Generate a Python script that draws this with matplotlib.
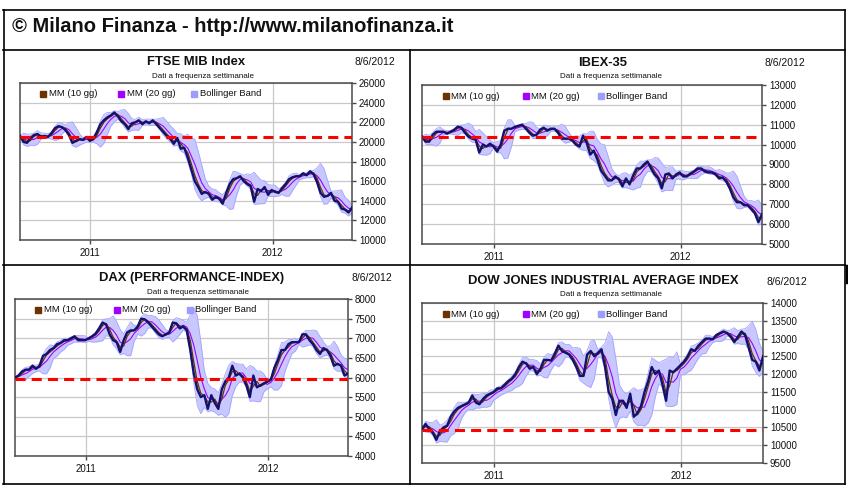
"""Milano Finanza weekly index sheet: four panels, close + MM + Bollinger band."""

import matplotlib

matplotlib.use("Agg")
import matplotlib.dates as mdates  # noqa: E402
import matplotlib.pyplot as plt  # noqa: E402
import pandas as pd  # noqa: E402
from matplotlib.lines import Line2D  # noqa: E402
from matplotlib.ticker import MultipleLocator  # noqa: E402

W, H = 848, 488

# weekly closes, last one on 8/6/2012
LAST_DATE = "2012-06-08"

FTSE = [20600, 20000, 19900, 20400, 20700, 20800, 20500, 20600, 20500, 20900,
        21400, 21600, 21500, 21200, 20700, 19900, 20100, 20300, 20200, 20500,
        20100, 20300, 21000, 21800, 22200, 22500, 22700, 23000, 22600, 22100,
        21800, 21300, 21900, 22000, 22200, 21800, 22100, 21900, 22200, 21800,
        21400, 21000, 20600, 20300, 19800, 20400, 19300, 19400, 18400, 17200,
        16000, 15400, 14700, 14900, 14700, 14100, 14400, 14200, 13700, 14800,
        15700, 16200, 16300, 16500, 16000, 15700, 15500, 13900, 15200, 15000,
        15400, 14600, 15100, 14900, 14800, 15300, 15700, 16200, 16400, 16500,
        16500, 16800, 16600, 17000, 16700, 15900, 14800, 14400, 14500, 14800,
        14000, 13900, 13200, 13100, 12800, 13300]
IBEX = [10400, 10150, 10150, 10500, 10650, 10650, 10650, 10550, 10650, 10750,
        10900, 10850, 10600, 10400, 10300, 10250, 9600, 10000, 9900, 10050,
        9900, 9650, 10000, 10700, 10800, 10800, 10900, 10950, 11000, 10800,
        10600, 10450, 10500, 10750, 10850, 10700, 10800, 10800, 10600, 10300,
        10300, 10300, 10200, 10000, 9900, 10450, 10100, 9500, 9700, 9250,
        8700, 8450, 8200, 8200, 8400, 8250, 7900, 8300, 8000, 8450,
        8800, 8800, 9000, 9150, 8800, 8500, 8300, 7800, 8500, 8550,
        8300, 8500, 8600, 8400, 8400, 8550, 8650, 8800, 8800, 8650,
        8600, 8600, 8500, 8300, 8350, 8150, 7800, 7350, 7100, 7100,
        6950, 6950, 6750, 6550, 6100, 6500]
DAX = [6000, 6050, 6150, 6200, 6200, 6300, 6220, 6300, 6550, 6600,
       6700, 6750, 6850, 6880, 6950, 6950, 7000, 7050, 6950, 6950,
       6950, 7000, 7050, 7120, 7250, 7400, 7350, 7100, 6950, 6900,
       6650, 6950, 7150, 7200, 7200, 7300, 7500, 7480, 7400, 7300,
       7200, 7100, 7050, 7100, 7150, 7400, 7380, 7250, 7300, 7200,
       6700, 6100, 5700, 5500, 5550, 5200, 5550, 5350, 5200, 5700,
       5900, 6000, 6300, 6050, 6100, 6000, 5800, 5500, 6050, 5750,
       5800, 5850, 5900, 5950, 6250, 6450, 6700, 6700, 6850, 6900,
       6900, 6900, 7100, 7100, 6950, 6850, 6700, 6600, 6750, 6700,
       6550, 6300, 6350, 6300, 6050, 6100]
DJIA = [10450, 10600, 10450, 10350, 10150, 10400, 10500, 10550, 10800, 10950,
        11050, 11100, 11150, 11200, 11400, 11200, 11150, 11300, 11400, 11450,
        11500, 11600, 11600, 11700, 11800, 11870, 12000, 12200, 12350, 12300,
        12150, 12200, 12000, 12150, 12400, 12400, 12380, 12580, 12800, 12650,
        12600, 12550, 12400, 12200, 11950, 11950, 12550, 12650, 12500, 12600,
        12700, 12200, 11500, 11300, 10850, 11250, 11250, 11050, 11450, 10800,
        10900, 11100, 11500, 11800, 12200, 12000, 12100, 11700, 11250, 12100,
        12050, 12150, 12250, 12350, 12500, 12700, 12650, 12800, 12900, 13000,
        13000, 12980, 13100, 13150, 13200, 13150, 13050, 12900, 13050, 13200,
        13100, 12750, 12400, 12350, 12100, 12500]

# red dashed reference levels
FTSE_REF = 20500
IBEX_REF = 10400
DAX_REF = 5970
DJIA_REF = 10420

TITLES = ["FTSE MIB Index", "IBEX-35", "DAX (PERFORMANCE-INDEX)",
          "DOW JONES INDUSTRIAL AVERAGE INDEX"]
SUBTITLE = "Dati a frequenza settimanale"
DATE_LABEL = "8/6/2012"
LEGEND = ["MM (10 gg)", "MM (20 gg)", "Bollinger Band"]
HEADER = "\u00a9 Milano Finanza - http://www.milanofinanza.it"

NAVY = "#12126e"
BROWN = "#6b3300"
PURPLE = "#a000ff"
BAND_FILL = "#c8c8ff"
BAND_EDGE = "#a4a4ff"
RED = "#ff0000"
GRID = "#c8c8c8"
FRAME = "#4a4a4a"
INK = "#111111"

plt.rcParams["font.family"] = ["Liberation Sans", "DejaVu Sans"]


def fx(x):
    return x / W


def fy(y):
    return 1 - y / H


def hline(fig, x0, x1, y, lw=1.2, color="black"):
    fig.add_artist(Line2D([fx(x0), fx(x1)], [fy(y), fy(y)], color=color, lw=lw))


def vline(fig, x, y0, y1, lw=1.2, color="black"):
    fig.add_artist(Line2D([fx(x), fx(x)], [fy(y0), fy(y1)], color=color, lw=lw))


def panel(fig, values, ref, ylim, ystep, box, title, title_xy, sub_xy, date_xy):
    l, t, r, b = box
    ax = fig.add_axes([fx(l), fy(b), (r - l) / W, (b - t) / H])
    close = pd.Series(values, index=pd.date_range(end=LAST_DATE, periods=len(values), freq="7D"))
    # 10 and 20 trading days on a weekly sheet -> 2 and 4 weeks
    mm10 = close.rolling(2, min_periods=1).mean()
    mm20 = close.rolling(4, min_periods=1).mean()
    sd = close.rolling(4, min_periods=1).std(ddof=0)
    upper, lower = mm20 + 2 * sd, mm20 - 2 * sd

    ax.fill_between(close.index, lower, upper, color=BAND_FILL, lw=0, zorder=2)
    ax.plot(close.index, upper, color=BAND_EDGE, lw=0.6, zorder=2)
    ax.plot(close.index, lower, color=BAND_EDGE, lw=0.6, zorder=2)
    ax.plot(close.index, mm20, color=PURPLE, lw=0.8, zorder=3)
    ax.plot(close.index, mm10, color=BROWN, lw=0.9, zorder=3)
    ax.plot(close.index, close, color=NAVY, lw=1.7, zorder=4)
    ax.axhline(ref, color=RED, lw=2.2, linestyle=(0, (3.3, 2.0)), zorder=5)

    ax.set_xlim(close.index[0], close.index[-1])
    ax.set_ylim(*ylim)
    ax.yaxis.set_major_locator(MultipleLocator(ystep))
    ax.yaxis.tick_right()
    ax.xaxis.set_major_locator(mdates.YearLocator())
    ax.xaxis.set_major_formatter(mdates.DateFormatter("%Y"))
    ax.tick_params(axis="y", right=True, left=False, length=3, width=1, color=FRAME,
                   labelsize=7, labelcolor=INK, pad=2)
    ax.tick_params(axis="x", length=3, width=1, color=FRAME, labelsize=7, labelcolor=INK, pad=3)
    ax.grid(True, color=GRID, lw=0.9, zorder=0)
    ax.set_axisbelow(True)
    for s in ax.spines.values():
        s.set_color(FRAME)
        s.set_linewidth(1.1)

    # legend row inside the plot top
    for i, (lab, col) in enumerate(zip(LEGEND, [BROWN, PURPLE, "#9d9dff"])):
        x0 = [0.07, 0.305, 0.525][i]
        ax.plot([x0], [0.93], marker="s", markersize=4.2, color=col, transform=ax.transAxes,
                clip_on=False, zorder=6)
        ax.text(x0 + 0.016, 0.93, lab, transform=ax.transAxes, fontsize=6.8, color=INK,
                va="center", ha="left", zorder=6)

    fig.text(fx(title_xy[0]), fy(title_xy[1]), title, ha="center", va="center",
             fontsize=9.4, fontweight="bold", color=INK)
    fig.text(fx(sub_xy[0]), fy(sub_xy[1]), SUBTITLE, ha="center", va="center",
             fontsize=5.8, color=INK)
    fig.text(fx(date_xy[0]), fy(date_xy[1]), DATE_LABEL, ha="center", va="center",
             fontsize=7.5, color=INK)
    return ax


fig = plt.figure(figsize=(W / 100, H / 100), dpi=100)
fig.patch.set_facecolor("white")

# frame of the sheet
hline(fig, 3, 845, 10)
hline(fig, 3, 845, 50)
hline(fig, 3, 845, 265)
hline(fig, 3, 845, 484)
vline(fig, 4, 10, 484)
vline(fig, 845, 10, 484)
vline(fig, 410, 50, 484)
vline(fig, 847, 266, 282, lw=2.5)

fig.text(fx(12), fy(26), HEADER, ha="left", va="center", fontsize=14.5, fontweight="bold",
         family=["Liberation Sans Narrow", "Liberation Sans", "DejaVu Sans"], color=INK)

panel(fig, FTSE, FTSE_REF, (10000, 26000), 2000, (20, 83, 352, 240), TITLES[0],
      (196, 62), (203, 76), (375, 62))
panel(fig, IBEX, IBEX_REF, (5000, 13000), 1000, (422, 85, 762, 244), TITLES[1],
      (603, 63), (611, 77), (785, 63))
panel(fig, DAX, DAX_REF, (4000, 8000), 500, (15, 299, 348, 456), TITLES[2],
      (192, 278), (198, 292), (372, 278))
panel(fig, DJIA, DJIA_REF, (9500, 14000), 500, (422, 303, 763, 463), TITLES[3],
      (603, 281), (611, 295), (787, 282))

fig.savefig("out.png", dpi=100, facecolor="white")
